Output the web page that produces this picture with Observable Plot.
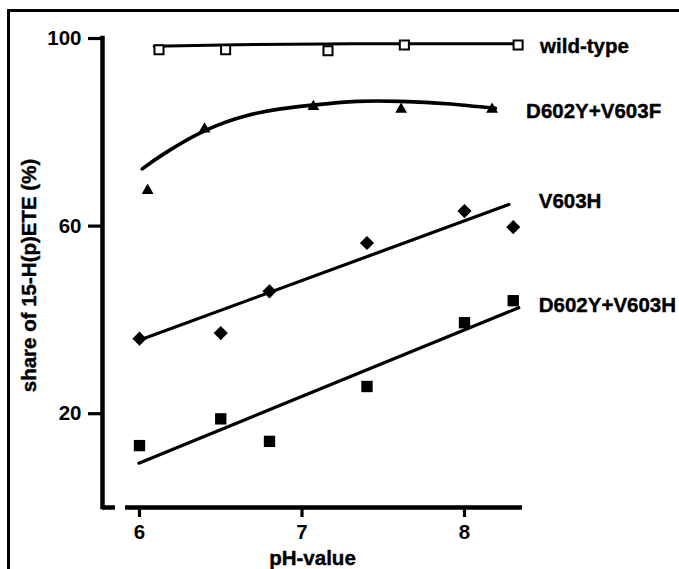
<!DOCTYPE html>
<html><head><meta charset="utf-8">
<script src="https://cdn.jsdelivr.net/npm/d3@7"></script>
<script src="https://cdn.jsdelivr.net/npm/@observablehq/plot@0.6"></script>
<style>
html,body{margin:0;padding:0;background:#fff;overflow:hidden;}
#wrap{position:relative;width:679px;height:569px;overflow:hidden;}
#frame{position:absolute;left:7px;top:9px;width:720px;height:620px;border-left:3px solid #000;border-top:3px solid #000;}
#chart{position:absolute;left:0;top:0;}
</style></head><body>
<div id="wrap"><div id="frame"></div><div id="chart"></div></div>
<script>
// ---- data ----
const seriesNames = ["wild-type", "D602Y+V603F", "V603H", "D602Y+V603H"];

const phWild = [6.12, 6.53, 7.16, 7.63, 8.33];
const wildType = [97.6, 97.6, 97.4, 98.6, 98.6];

const phF = [6.05, 6.40, 7.07, 7.61, 8.17];
const d602yV603f = [67.6, 80.7, 85.5, 84.9, 84.9];

const phH = [6.0, 6.5, 6.8, 7.4, 8.0, 8.3];
const v603h = [36.0, 37.2, 46.1, 56.4, 63.2, 59.8];
const d602yV603h = [13.2, 18.9, 14.1, 25.8, 39.4, 44.1];

// fitted curves as drawn in the reference
const fitWildX = [6.09, 6.6, 7.15, 7.7, 8.33];
const fitWildY = [98.35, 98.65, 98.85, 98.9, 98.9];
const fitFX = [6.017, 6.15, 6.406, 6.663, 6.868, 7.063, 7.34, 7.606, 7.893, 8.19];
const fitFY = [72.2, 75.4, 80.4, 83.6, 85.0, 85.8, 86.6, 86.6, 86.1, 85.1];
const fitV603hX = [6.006, 8.273];
const fitV603hY = [35.75, 64.6];
const fitDHX = [5.996, 8.334];
const fitDHY = [9.45, 42.6];

const xTicks = [6, 7, 8];
const yTicks = [20, 60, 100];
const xDomain = [5.7723, 8.357];
const yDomain = [0, 100];
const xAxisBreak = [5.852, 5.914];

// ---- build ----
const rows = (xs, ys, name) => xs.map((x, i) => ({x, y: ys[i], name}));
const wildRows = rows(phWild, wildType, seriesNames[0]);
const fRows = rows(phF, d602yV603f, seriesNames[1]);
const vRows = rows(phH, v603h, seriesNames[2]);
const dhRows = rows(phH, d602yV603h, seriesNames[3]);

const font = "'Liberation Sans', Arial, Helvetica, sans-serif";
const labelStyle = {fontSize: 20.5, fontWeight: "bold", fontFamily: font, fill: "black"};
const textStroke = {stroke: "black", strokeWidth: 0.4};

const labelOffsets = [
  {dx: 22, dy: 1},
  {dx: 34, dy: 2},
  {dx: 25.5, dy: -26},
  {dx: 25.5, dy: 4.5}
];
const seriesRows = [wildRows, fRows, vRows, dhRows];

const plot = Plot.plot({
  width: 679,
  height: 569,
  marginLeft: 102,
  marginRight: 157,
  marginTop: 38,
  marginBottom: 62,
  style: {background: "transparent", overflow: "visible", fontFamily: font},
  x: {domain: xDomain},
  y: {domain: yDomain},
  marks: [
    // axis lines
    Plot.ruleX([xDomain[0]], {y1: yDomain[0], y2: yDomain[1], stroke: "black", strokeWidth: 4.5, strokeLinecap: "square"}),
    Plot.ruleY([yDomain[0]], {x1: xDomain[0], x2: xAxisBreak[0], stroke: "black", strokeWidth: 4.5}),
    Plot.ruleY([yDomain[0]], {x1: xAxisBreak[1], x2: xDomain[1], stroke: "black", strokeWidth: 4.5}),
    Plot.axisX({ticks: xTicks, tickFormat: d3.format("d"), tickSize: 10, tickPadding: 7, strokeWidth: 3.2, label: null, ...labelStyle}),
    Plot.axisY({ticks: yTicks, tickFormat: d3.format("d"), tickSize: 14, tickPadding: 7, strokeWidth: 3.2, label: null, ...labelStyle}),
    Plot.text(["share of 15-H(p)ETE (%)"], {frameAnchor: "left", rotate: -90, dx: -73, dy: 2.5, textAnchor: "middle", lineAnchor: "middle", ...labelStyle, ...textStroke}),
    Plot.text(["pH-value"], {frameAnchor: "bottom", dy: 50.5, textAnchor: "middle", lineAnchor: "middle", ...labelStyle, ...textStroke}),
    // fitted lines
    Plot.line(rows(fitWildX, fitWildY, "fit"), {x: "x", y: "y", stroke: "black", strokeWidth: 3, curve: "natural"}),
    Plot.line(rows(fitFX, fitFY, "fit"), {x: "x", y: "y", stroke: "black", strokeWidth: 3.6, curve: "natural"}),
    Plot.line(rows(fitV603hX, fitV603hY, "fit"), {x: "x", y: "y", stroke: "black", strokeWidth: 3.2}),
    Plot.line(rows(fitDHX, fitDHY, "fit"), {x: "x", y: "y", stroke: "black", strokeWidth: 3.2}),
    // points
    Plot.dot(wildRows, {x: "x", y: "y", symbol: "square", r: 5.1, fill: "white", stroke: "black", strokeWidth: 2}),
    Plot.dot(fRows, {x: "x", y: "y", symbol: "triangle", r: 4.4, fill: "black", stroke: "none"}),
    Plot.dot(vRows, {x: "x", y: "y", symbol: "diamond2", r: 6.4, fill: "black", stroke: "none"}),
    Plot.dot(dhRows, {x: "x", y: "y", symbol: "square", r: 6.4, fill: "black", stroke: "none"}),
    // series labels
    ...seriesRows.map((rs, i) => Plot.text([rs[rs.length - 1]], {
      x: "x", y: "y", text: "name", textAnchor: "start", lineAnchor: "middle",
      dx: labelOffsets[i].dx, dy: labelOffsets[i].dy, ...labelStyle, ...textStroke
    }))
  ]
});
document.getElementById("chart").appendChild(plot);
</script>
</body></html>
